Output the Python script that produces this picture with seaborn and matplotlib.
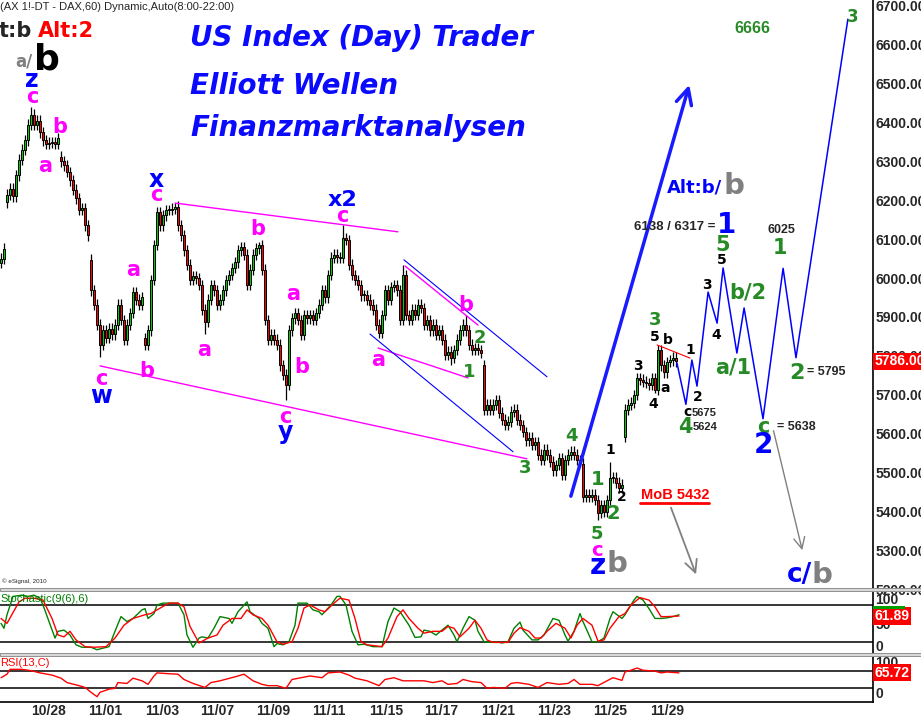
"""
DAX 60-Minuten Elliott-Wellen Chart (eSignal Stil)
Kerzen + Stochastik + RSI
"""

import numpy as np
import pandas as pd
import matplotlib
matplotlib.use("Agg")
import matplotlib.pyplot as plt
import matplotlib.transforms as mtransforms
from matplotlib.patches import Rectangle
import seaborn as sns

# ---------------- Daten ----------------
closes = [
    6050, 6075, 6214, 6230, 6210, 6265, 6304, 6330, 6355, 6394,
    6420, 6394, 6405, 6375, 6355, 6345, 6348, 6350, 6345, 6360,
    6300, 6290, 6273, 6252, 6227, 6205, 6175, 6180, 6136, 6110,
    5969, 5931, 5880, 5828, 5866, 5846, 5870, 5855, 5880, 5931,
    5892, 5841, 5880, 5910, 5964, 5944, 5931, 5951, 5828, 5866,
    5995, 6085, 6170, 6136, 6162, 6175, 6175, 6178, 6183, 6136,
    6110, 6072, 6034, 5995, 6005, 6000, 5982, 5918, 5887, 5944,
    5982, 5969, 5931, 5944, 5969, 5995, 6008, 6026, 6041, 6072,
    6080, 6060, 5982, 6021, 6060, 6077, 6085, 6021, 5892, 5841,
    5854, 5841, 5828, 5776, 5751, 5725, 5866, 5897, 5910, 5892,
    5854, 5905, 5897, 5905, 5892, 5910, 5931, 5969, 5951, 6008,
    6052, 6060, 6054, 6052, 6103, 6098, 6034, 6008, 5995, 5982,
    5956, 5956, 5944, 5931, 5918, 5880, 5859, 5905, 5969, 5944,
    5977, 5982, 5969, 5892, 6008, 5905, 5892, 5918, 5905, 5931,
    5923, 5880, 5892, 5866, 5880, 5854, 5866, 5841, 5802, 5810,
    5795, 5815, 5841, 5866, 5880, 5866, 5828, 5815, 5820, 5815,
    5808, 5661, 5674, 5661, 5674, 5686, 5653, 5635, 5622, 5630,
    5656, 5661, 5635, 5622, 5604, 5583, 5589, 5571, 5578, 5545,
    5532, 5558, 5545, 5527, 5506, 5519, 5537, 5494, 5532, 5545,
    5553, 5545, 5532, 5527, 5437, 5442, 5437, 5442, 5429, 5396,
    5416, 5398, 5429, 5486, 5486, 5473, 5460, 5468, 5661, 5674,
    5679, 5699, 5743, 5738, 5733, 5730, 5725, 5743, 5712, 5815,
    5776, 5758, 5784, 5789, 5795, 5786,
]
# Eröffnungskurse nach Kurslücken
gap_opens = {0: 6040, 2: 6195, 20: 6312, 30: 6047, 48: 5845, 161: 5776,
             194: 5522, 208: 5591}
# markante Hochs / Tiefs
bar_highs = {10: 6440, 58: 6193, 86: 6093, 114: 6137, 134: 6034,
             155: 5905, 203: 5527, 219: 5828}
bar_lows = {33: 5797, 48: 5815, 68: 5855, 95: 5686, 150: 5776,
            199: 5378, 218: 5704}

date_labels = ['10/28', '11/01', '11/03', '11/07', '11/09', '11/11',
               '11/15', '11/17', '11/21', '11/23', '11/25', '11/29']
date_bars = [16, 34.7, 53.7, 72, 90.7, 109.3, 128.3, 146.7, 165.7,
             184.3, 203, 222]

# Stochastik %K (grün) und %D (rot)
k_bars = [0, 1, 2, 4, 7, 9, 11, 13, 14, 16, 18, 19, 21, 23, 25, 27, 30, 32,
          36, 38, 40, 42, 44, 47, 48, 49, 51, 52, 54, 59, 61, 62, 64, 66, 67,
          69, 71, 73, 76, 77, 79, 82, 83, 86, 87, 89, 91, 92, 94, 96, 98, 99,
          102, 104, 106, 107, 110, 112, 113, 115, 117, 119, 121, 124, 127,
          129, 131, 133, 136, 138, 140, 141, 143, 145, 147, 149, 151, 152,
          154, 156, 158, 159, 161, 163, 166, 167, 169, 171, 173, 174, 177,
          179, 181, 184, 186, 188, 189, 191, 193, 194, 197, 199, 201, 203,
          204, 207, 208, 211, 212, 214, 216, 218, 220, 222, 224, 226]
k_vals = [50, 42, 64, 94, 96, 94, 96, 91, 80, 53, 26, 37, 39, 31, 15, 11, 11, 7,
          12, 37, 61, 53, 58, 72, 74, 58, 66, 80, 83, 83, 64, 31, 11, 26, 28,
          26, 42, 61, 58, 50, 69, 85, 69, 58, 50, 42, 12, 17, 15, 20, 47, 83,
          83, 72, 69, 64, 80, 94, 94, 80, 37, 15, 16, 12, 12,
          53, 75, 69, 47, 27, 28, 39, 37, 31, 39, 47, 31, 20,
          42, 61, 55, 37, 20, 19, 19, 18, 20, 42, 52, 39, 23,
          23, 31, 58, 55, 31, 21, 37, 66, 53, 20, 20, 26, 58,
          69, 58, 64, 88, 94, 88, 74, 58, 58, 59, 61, 64]
d_bars = [0, 2, 6, 8, 11, 14, 17, 19, 21, 23, 25, 28, 31, 35, 38, 41, 44, 48,
          50, 52, 56, 59, 61, 63, 66, 69, 72, 74, 77, 80, 82, 84, 87, 89, 92,
          94, 97, 99, 101, 103, 106, 108, 111, 113, 116, 118, 120, 122, 127,
          129, 132, 134, 136, 139, 141, 144, 147, 149, 151, 153, 156, 158,
          160, 162, 164, 169, 171, 173, 176, 178, 180, 182, 185, 188, 190,
          192, 194, 197, 199, 201, 203, 206, 208, 210, 213, 216, 218, 220,
          222, 226]
d_vals = [58, 50, 85, 91, 91, 88, 58, 31, 28, 37, 23, 12, 11, 12, 26, 47, 58, 64,
          66, 72, 83, 83, 77, 45, 18, 26, 31, 47, 58, 58, 72, 64, 58, 47, 20,
          16, 20, 42, 75, 80, 72, 69, 83, 91, 88, 58, 20, 15, 12,
          26, 61, 72, 58, 42, 34, 37, 37, 45, 42, 28, 42, 55,
          42, 23, 19, 19, 34, 43, 37, 26, 26, 37, 50, 42, 26,
          47, 58, 47, 21, 23, 42, 61, 66, 80, 92, 88, 77, 61,
          61, 62]

# RSI(13)
rsi_bars = [0, 2, 3, 7, 10, 13, 17, 20, 22, 26, 28, 30, 32, 33, 36, 38, 39, 42,
            44, 47, 49, 51, 52, 56, 59, 61, 64, 68, 70, 73, 78, 81, 84, 87, 89,
            92, 95, 97, 100, 103, 107, 109, 113, 116, 118, 122, 126, 128, 131,
            134, 138, 141, 144, 147, 149, 152, 154, 157, 160, 162, 164, 168,
            170, 172, 176, 179, 182, 186, 189, 191, 193, 197, 199, 202, 204,
            207, 208, 210, 212, 214, 218, 220, 222, 226]
rsi_vals = [54, 62, 73, 73, 70, 65, 60, 53, 43, 36, 32, 21, 11, 21, 28, 30, 43, 41,
            53, 47, 39, 58, 65, 63, 62, 50, 41, 32, 43, 47, 56, 62, 47, 39, 36,
            36, 30, 50, 54, 58, 54, 65, 67, 60, 53, 47, 36, 50, 54,
            47, 47, 47, 43, 47, 39, 41, 50, 45, 43, 30, 32, 30,
            41, 43, 39, 32, 43, 39, 41, 50, 39, 39, 36, 47, 54,
            48, 67, 71, 76, 71, 69, 65, 67, 65]

# Projektion (blaue Zickzack-Linie)
proj_bars = [225.3, 228.3, 230.3, 232, 235.7, 238.7, 240.7, 245.3, 247.7,
             254, 260.7, 265, 282.3]
proj_prices = [5782, 5675, 5789, 5722, 5964, 5884, 6026, 5807, 5923,
               5638, 6025, 5795, 6666]

price_last = 5786.00
stoch_last = 61.89
rsi_last = 65.72

# ---------------- Stil ----------------
sns.set_theme(style="white")
plt.rcParams['font.family'] = ['DejaVu Sans']

MAG = '#ff00ff'
BLU = '#0000ff'
GRN = '#268a26'
GRY = '#808080'
BLK = 'black'
ARIAL = ['Liberation Sans', 'DejaVu Sans']

W, H = 921, 721
fig = plt.figure(figsize=(W / 100, H / 100), dpi=100)
fig.patch.set_facecolor('white')


def box(l, t, r, b):
    return [l / W, 1 - b / H, (r - l) / W, (b - t) / H]


ax = fig.add_axes(box(0, 0, 873, 589))
ax_st = fig.add_axes(box(0, 591, 873, 654))
ax_rsi = fig.add_axes(box(0, 656, 873, 702))

XLIM = (-1 / 3, 290.67)
for a in (ax, ax_st, ax_rsi):
    a.set_xlim(*XLIM)
    a.set_facecolor('white')
    for s in ('left', 'top', 'bottom'):
        a.spines[s].set_visible(False)
    a.spines['right'].set_color('black')
    a.spines['right'].set_linewidth(1.2)
    a.set_xticks([])

ax.set_ylim(5200, 6715.4)
ax_st.set_ylim(0, 102.8)
ax_rsi.set_ylim(-1.1, 103.3)

# ---------------- Kerzen ----------------
n = len(closes)
opens = [gap_opens.get(i, closes[i - 1] if i else closes[0]) for i in range(n)]
df = pd.DataFrame({'bar': np.arange(n), 'open': opens, 'close': closes})
df['top'] = df[['open', 'close']].max(axis=1)
df['bot'] = df[['open', 'close']].min(axis=1)
df['high'] = [bar_highs.get(i, t + 14) for i, t in zip(df.bar, df.top)]
df['low'] = [bar_lows.get(i, b - 14) for i, b in zip(df.bar, df.bot)]
df['up'] = df.close >= df.open

ax.vlines(df.bar, df.low, df.high, color='black', lw=0.9, zorder=2)
ax.bar(df.bar, (df.top - df.bot).clip(lower=3), bottom=df.bot, width=0.92,
       color=np.where(df.up, '#00cc00', '#ff0000'), edgecolor='black',
       linewidth=0.7, zorder=3)

# Preisachse rechts
ax.yaxis.tick_right()
ax.set_yticks(np.arange(5200, 6701, 100))
ax.set_yticklabels([f'{v:.2f}' for v in np.arange(5200, 6701, 100)],
                   fontsize=10, fontweight='bold', family=ARIAL)
ax.tick_params(axis='y', length=0, pad=2)
ax.set_xlabel('')
ax.set_ylabel('')

tr = mtransforms.blended_transform_factory(ax.transAxes, ax.transData)
ax.text(1.0015, price_last, f'{price_last:.2f}', transform=tr, ha='left',
        va='center', color='white', fontsize=10, fontweight='bold',
        family=ARIAL, zorder=10,
        bbox=dict(fc='#ff0000', ec='none', pad=1.2))

# ---------------- Trendlinien ----------------
ax.plot([58, 132.3], [6193, 6119], color=MAG, lw=1)
ax.plot([33, 175.3], [5774, 5535], color=MAG, lw=1)
ax.plot([125.7, 155.7], [5820, 5743], color=MAG, lw=1)
ax.plot([134.7, 159], [6031, 5879], color=MAG, lw=1)
ax.plot([134.3, 182], [6047, 5746], color=BLU, lw=0.8)
ax.plot([123, 170.7], [5856, 5553], color=BLU, lw=0.8)
ax.plot([218.7, 229.7], [5828, 5794], color='#ff0000', lw=0.8)

proj = pd.DataFrame({'bar': proj_bars, 'price': proj_prices})
sns.lineplot(data=proj, x='bar', y='price', ax=ax, color=BLU, lw=1.1,
             sort=False, estimator=None)
ax.set_xlabel('')
ax.set_ylabel('')

ax.annotate('', xy=(229.7, 6504), xytext=(189.7, 5432),
            arrowprops=dict(arrowstyle='->', color='#1a1aff', lw=2.5,
                            mutation_scale=28))
ax.annotate('', xy=(232, 5231), xytext=(223, 5416),
            arrowprops=dict(arrowstyle='->', color=GRY, lw=1.3,
                            mutation_scale=22))
ax.annotate('', xy=(267.3, 5293), xytext=(257.3, 5614),
            arrowprops=dict(arrowstyle='->', color=GRY, lw=1.0,
                            mutation_scale=20))

# ---------------- Wellen-Beschriftung ----------------
wave_labels = [
    (10.3, 6510, 'z', BLU, 17), (10.3, 6466, 'c', MAG, 15),
    (19.7, 6389, 'b', MAG, 15), (14.7, 6288, 'a', MAG, 15),
    (51.7, 6252, 'x', BLU, 17), (51.7, 6214, 'c', MAG, 15),
    (44, 6021, 'a', MAG, 15), (85.7, 6126, 'b', MAG, 15),
    (67.7, 5815, 'a', MAG, 15), (48.7, 5761, 'b', MAG, 15),
    (33.3, 5740, 'c', MAG, 15), (33.3, 5697, 'w', BLU, 17),
    (97.3, 5959, 'a', MAG, 15), (100.3, 5771, 'b', MAG, 15),
    (94.7, 5643, 'c', MAG, 15), (94.7, 5604, 'y', BLU, 17),
    (113.7, 6201, 'x2', BLU, 16), (113.7, 6160, 'c', MAG, 15),
    (125.7, 5789, 'a', MAG, 15), (155, 5931, 'b', MAG, 15),
    (159.7, 5846, '2', GRN, 13), (156, 5758, '1', GRN, 13),
    (174.7, 5511, '3', GRN, 13), (190.3, 5594, '4', GRN, 13),
    (198.7, 5342, '5', GRN, 13), (198.7, 5300, 'c', MAG, 14),
    (199, 5481, '1', GRN, 14), (204, 5393, '2', GRN, 14),
    (203, 5558, '1', BLK, 10), (207, 5437, '2', BLK, 10),
    (218, 5892, '3', GRN, 13), (218, 5848, '5', BLK, 10),
    (222.3, 5841, 'b', BLK, 10), (212.3, 5774, '3', BLK, 10),
    (221.3, 5717, 'a', BLK, 10), (217.3, 5676, '4', BLK, 10),
    (229.7, 5815, '1', BLK, 10), (232.3, 5694, '2', BLK, 10),
    (228.7, 5655, 'c', BLK, 10), (228, 5617, '4', GRN, 15),
    (240.7, 6085, '5', GRN, 15), (240.3, 6047, '5', BLK, 10),
    (235.3, 5982, '3', BLK, 10), (238.3, 5854, '4', BLK, 10),
    (249, 5962, 'b/2', GRN, 15), (244, 5771, 'a/1', GRN, 15),
    (259.7, 6077, '1', GRN, 15), (265.3, 5756, '2', GRN, 16),
    (254, 5617, 'c', GRN, 15), (254.3, 5571, '2', BLU, 20),
    (199, 5259, 'z', BLU, 20), (284, 6672, '3', GRN, 12),
]
for bx, py, s, c, fs in wave_labels:
    ax.text(bx, py, s, color=c, fontsize=fs, fontweight='bold',
            ha='center', va='center', zorder=6)

small_txt = dict(fontweight='bold', family=ARIAL, va='center', zorder=6)
ax.text(230.3, 5653, '5675', fontsize=8, ha='left', **small_txt)
ax.text(230.7, 5617, '5624', fontsize=8, ha='left', **small_txt)
ax.text(238, 6131, '6138 / 6317 =', fontsize=9.5, ha='right', **small_txt)
ax.text(238.7, 6137, '1', fontsize=20, ha='left', color=BLU,
        fontweight='bold', va='center')
ax.text(240.3, 6234, 'Alt:b/', fontsize=13, ha='right', color=BLU,
        fontweight='bold', va='center')
ax.text(241, 6236, 'b', fontsize=21, ha='left', color=GRY,
        fontweight='bold', va='center')
ax.text(260.3, 6124, '6025', fontsize=9, ha='center', **small_txt)
ax.text(268.7, 5758, '= 5795', fontsize=9, ha='left', **small_txt)
ax.text(258.7, 5617, '= 5638', fontsize=9, ha='left', **small_txt)
ax.text(250.3, 6643, '6666', fontsize=11.5, ha='center', color=GRN,
        fontweight='bold', family=ARIAL, va='center')
ax.text(202, 5264, 'b', fontsize=21, ha='left', color=GRY,
        fontweight='bold', va='center')
ax.text(270.3, 5236, 'c/', fontsize=19, ha='right', color=BLU,
        fontweight='bold', va='center')
ax.text(270.3, 5236, 'b', fontsize=21, ha='left', color=GRY,
        fontweight='bold', va='center')
ax.text(224.7, 5442, 'MoB 5432', fontsize=10.5, ha='center', color='#ff0000',
        fontweight='bold', family=ARIAL, va='center')
ax.plot([213, 236], [5421, 5421], color='#ff0000', lw=2)

# ---------------- Stochastik ----------------
st_k = pd.DataFrame({'bar': k_bars, 'val': k_vals})
st_d = pd.DataFrame({'bar': d_bars, 'val': d_vals})
ax_st.axhline(80, color='black', lw=1.1)
ax_st.axhline(20, color='black', lw=1.1)
sns.lineplot(data=st_k, x='bar', y='val', ax=ax_st, color='#008000', lw=1,
             estimator=None)
sns.lineplot(data=st_d, x='bar', y='val', ax=ax_st, color='#ff0000', lw=1,
             estimator=None)
ax_st.set_xlabel('')
ax_st.set_ylabel('')
ax_st.set_yticks([])
ax_st.set_xticks([])
tr_st = mtransforms.blended_transform_factory(ax_st.transAxes, ax_st.transData)
for v, s in [(88, '100'), (47, '50'), (11, '0')]:
    ax_st.text(1.003, v, s, transform=tr_st, ha='left', va='center',
               fontsize=10, fontweight='bold', family=ARIAL)
ax_st.text(1.0015, stoch_last, f'{stoch_last:.2f}', transform=tr_st,
           ha='left', va='center', color='white', fontsize=10,
           fontweight='bold', family=ARIAL, zorder=10,
           bbox=dict(fc='#ff0000', ec='none', pad=1.2))
ax_st.text(0.0, 90, 'Stochastic(9(6),6)', transform=tr_st, ha='left',
           va='center', color='#008000', fontsize=8, family=ARIAL)

# ---------------- RSI ----------------
rsi = pd.DataFrame({'bar': rsi_bars, 'val': rsi_vals})
ax_rsi.axhline(70, color='black', lw=1.1)
ax_rsi.axhline(30, color='black', lw=1.1)
sns.lineplot(data=rsi, x='bar', y='val', ax=ax_rsi, color='#ff0000', lw=1,
             estimator=None)
ax_rsi.set_xlabel('')
ax_rsi.set_ylabel('')
ax_rsi.set_yticks([])
ax_rsi.spines['bottom'].set_visible(True)
ax_rsi.spines['bottom'].set_color('black')
ax_rsi.spines['bottom'].set_linewidth(1.2)
ax_rsi.set_xticks(date_bars)
ax_rsi.set_xticklabels(date_labels, fontsize=10, fontweight='bold',
                       family=ARIAL)
ax_rsi.tick_params(axis='x', length=0, pad=1.5)
tr_rsi = mtransforms.blended_transform_factory(ax_rsi.transAxes,
                                               ax_rsi.transData)
for v, s in [(88, '100'), (17, '0')]:
    ax_rsi.text(1.003, v, s, transform=tr_rsi, ha='left', va='center',
                fontsize=10, fontweight='bold', family=ARIAL)
ax_rsi.text(1.0015, rsi_last, f'{rsi_last:.2f}', transform=tr_rsi,
            ha='left', va='center', color='white', fontsize=10,
            fontweight='bold', family=ARIAL, zorder=10,
            bbox=dict(fc='#ff0000', ec='none', pad=1.2))
ax_rsi.text(0.0, 88, 'RSI(13,C)', transform=tr_rsi, ha='left',
            va='center', color='#ff0000', fontsize=8, family=ARIAL)

# ---------------- Rahmen / Kopf ----------------
for top in (588, 653):
    fig.patches.append(Rectangle((0, 1 - (top + 3) / H), 1, 3 / H,
                                 transform=fig.transFigure, fc='#d8d8d8',
                                 ec='#909090', lw=0.7, zorder=5))
fig.patches.append(Rectangle((873 / W, 1 - 609 / H), 32 / W, 3 / H,
                             transform=fig.transFigure, fc='#00a000',
                             ec='none', zorder=5))


def ftxt(x, y, s, **kw):
    fig.text(x / W, 1 - y / H, s, va='center', **kw)


ftxt(0, 7, '(AX 1!-DT - DAX,60) Dynamic,Auto(8:00-22:00)', fontsize=8,
     family=ARIAL, ha='left')
ftxt(-1, 31, 't:b', fontsize=15, fontweight='bold', ha='left')
ftxt(38, 31, 'Alt:2', fontsize=15, fontweight='bold', color='#ff0000',
     ha='left')
ftxt(32, 62, 'a/', fontsize=12, fontweight='bold', color=GRY, ha='right')
ftxt(34, 59, 'b', fontsize=26, fontweight='bold', color='black', ha='left')
for y, s in [(38, 'US Index (Day) Trader'), (86, 'Elliott Wellen'),
             (128, 'Finanzmarktanalysen')]:
    ftxt(190, y, s, fontsize=20, fontweight='bold', style='italic',
         color='#0a0aff', ha='left')
ftxt(2, 581, '© eSignal, 2010', fontsize=4.5, family=ARIAL, ha='left')

fig.savefig('out.png', dpi=100)
plt.close(fig)
